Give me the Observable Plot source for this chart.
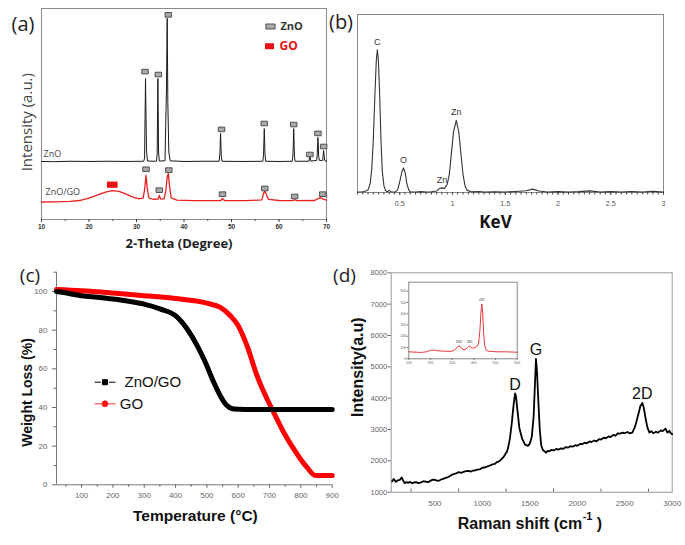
<!DOCTYPE html>
<html><head><meta charset="utf-8">
<script src="https://cdn.jsdelivr.net/npm/d3@7"></script>
<script src="https://cdn.jsdelivr.net/npm/@observablehq/plot@0.6"></script>
<style>
html,body{margin:0;padding:0;background:#fff}
#fig{position:relative;width:685px;height:545px;overflow:hidden;background:#fff}
.panel{position:absolute}
.panel svg{display:block}
</style></head>
<body><div id="fig">
<div class="panel" id="pa" style="left:0;top:0"></div>
<div class="panel" id="pb" style="left:340px;top:0"></div>
<div class="panel" id="pc" style="left:0;top:255px"></div>
<div class="panel" id="pd" style="left:340px;top:255px"></div>
<div class="panel" id="pi" style="left:398px;top:275px"></div>
</div>
<script>
// ---------- (a) XRD ----------
const xrdTicks = [10, 20, 30, 40, 50, 60, 70];
const xrdMinorTicks = [15, 25, 35, 45, 55, 65];
const znoPattern = [[10,27.5],[13,27.4],[16,27.6],[20,27.5],[24,27.6],[28,27.5],[31.5,27.6],[31.7,29],[31.9,66.8],[32.1,33],[32.3,27.7],[34.2,27.6],[34.35,31],[34.5,66.8],[34.65,32],[34.8,27.7],[36.0,27.8],[36.15,45],[36.3,60],[36.46,95.3],[36.6,55],[36.8,32],[37.1,27.8],[40,27.5],[44,27.6],[47.4,27.6],[47.55,31],[47.7,40.8],[47.85,30],[48.0,27.6],[52,27.5],[56.6,27.6],[56.75,31],[56.9,43.1],[57.05,31],[57.2,27.6],[60,27.5],[62.8,27.6],[62.95,31],[63.1,43.1],[63.25,30],[63.4,27.6],[66.3,27.6],[66.5,29.9],[66.7,27.7],[67.95,28],[68.05,31],[68.2,38.9],[68.35,30],[68.5,28],[69.2,28],[69.4,32.7],[69.6,28],[70,27.6]];
const compositePattern = [[10,8.3],[13,8.4],[16,8.6],[18,9],[20,10.1],[22,11.8],[23.5,13],[24.9,13.7],[26.3,13.3],[27.8,12],[29.3,10.6],[30.6,9.8],[31.4,10.2],[31.7,14],[32.0,20.9],[32.25,15],[32.6,10.3],[33.5,9.6],[34.55,9.7],[34.8,11.4],[35.05,9.8],[35.8,9.8],[36.2,14],[36.45,20],[36.7,21.8],[36.95,16],[37.3,10.2],[38.5,9.2],[42,8.9],[47.7,8.9],[48.1,10],[48.5,9],[53,8.9],[56.4,9.3],[56.7,12],[57.0,13.7],[57.3,12],[57.8,9.5],[60,9],[62.9,8.9],[63.3,9.4],[63.7,8.9],[67.5,9],[68.1,9.8],[68.7,10.4],[69.3,9.6],[70,9.2]];
const znoMarkers = [[31.8,70.1],[34.6,68.7],[36.7,97],[47.9,42.7],[56.9,45.5],[63.1,45],[66.5,30.8],[68.2,40.8],[69.4,34.6]];
const compositeMarkers = [[32.0,23.8],[34.8,13.9],[36.8,23.4],[48.1,12],[57.0,14.7],[63.3,10.9],[69.2,12]];
const goMarker = [[24.9,16.5]];

// ---------- (b) EDS ----------
const edsTicks = [0.5, 1, 1.5, 2, 2.5, 3];
const edsSpectrum = [[0.1,0.3],[0.15,0.4],[0.18,0.8],[0.2,1.5],[0.22,5],[0.235,13],[0.25,30],[0.265,55],[0.278,74],[0.288,80.2],[0.298,74],[0.31,55],[0.322,30],[0.335,12],[0.35,4],[0.365,1.2],[0.38,0.4],[0.4,1.2],[0.42,0.3],[0.46,0.4],[0.48,1.5],[0.5,6],[0.52,11.5],[0.536,13.8],[0.552,11],[0.568,5],[0.585,1.5],[0.6,0.4],[0.65,0.3],[0.7,0.5],[0.75,0.3],[0.8,0.4],[0.85,0.8],[0.875,2.2],[0.9,2.6],[0.925,2.3],[0.95,4.5],[0.97,10],[0.99,22],[1.01,34],[1.036,40.5],[1.06,34],[1.08,22],[1.1,10],[1.12,3.5],[1.14,1.2],[1.18,0.4],[1.25,0.6],[1.3,0.3],[1.4,0.4],[1.5,0.3],[1.6,0.6],[1.7,1],[1.76,1.9],[1.82,0.8],[1.9,0.3],[2,0.5],[2.1,0.3],[2.2,0.5],[2.3,0.9],[2.4,0.3],[2.5,0.5],[2.6,0.3],[2.7,0.6],[2.8,0.3],[2.9,0.7],[3,0.2]];
const edsPeakNames = ["C", "O", "Zn", "Zn"];
const edsPeakKeV = [0.288, 0.536, 0.9, 1.036];
const edsPeakCounts = [80.2, 13.8, 2.6, 40.5];

// ---------- (c) TGA ----------
const tgaTempTicks = [100, 200, 300, 400, 500, 600, 700, 800, 900];
const tgaTempMinor = [50, 150, 250, 350, 450, 550, 650, 750, 850];
const tgaWeightTicks = [0, 20, 40, 60, 80, 100];
const tgaWeightMinor = [10, 30, 50, 70, 90, 110];
const tgaZnOGO = [[20,100],[60,99],[100,97.8],[150,97],[200,96.1],[250,95],[300,93.5],[350,91],[400,87.5],[437,80.6],[469,72],[495,63.4],[522,53],[543,46],[564,41],[586,39.2],[620,39],[700,39],[800,39],[900,39]];
const tgaGO = [[20,101],[100,100.4],[200,99.2],[300,97.8],[400,96.4],[500,94],[543,91.8],[575,87.5],[600,82.3],[628,72],[660,56.5],[692,44.4],[713,37.5],[745,27.2],[777,18.6],[819,9.1],[846,4.8],[870,4.8],[900,4.8]];
const tgaSeries = ["ZnO/GO", "GO"];

// ---------- (d) Raman ----------
const ramanShiftTicks = [500, 1000, 1500, 2000, 2500, 3000];
const ramanShiftMinor = [250, 750, 1250, 1750, 2250, 2750];
const ramanIntensityTicks = [1000, 2000, 3000, 4000, 5000, 6000, 7000, 8000];
const ramanSpectrum = [[50,1350],[60,1400],[70,1420],[80,1360],[90,1330],[110,1380],[130,1390],[150,1470],[165,1380],[180,1290],[200,1320],[220,1300],[240,1330],[260,1280],[280,1310],[300,1320],[330,1290],[350,1310],[380,1350],[400,1340],[430,1320],[450,1360],[480,1400],[500,1390],[530,1360],[550,1380],[580,1420],[600,1440],[630,1470],[650,1500],[680,1560],[700,1580],[730,1610],[750,1640],[780,1620],[800,1650],[830,1670],[850,1680],[880,1660],[900,1690],[930,1700],[950,1720],[980,1740],[1000,1780],[1030,1790],[1050,1820],[1080,1850],[1100,1880],[1130,1900],[1150,1950],[1180,1990],[1200,2050],[1220,2110],[1240,2200],[1260,2300],[1270,2400],[1290,2700],[1310,3200],[1330,3800],[1345,4150],[1355,4050],[1370,3600],[1390,3050],[1420,2700],[1450,2520],[1480,2480],[1500,2550],[1520,2750],[1540,3400],[1555,4500],[1565,5250],[1575,4900],[1590,3900],[1605,3000],[1620,2500],[1640,2330],[1660,2300],[1670,2260],[1690,2320],[1700,2300],[1730,2350],[1750,2330],[1780,2380],[1800,2360],[1830,2400],[1850,2380],[1880,2440],[1900,2420],[1930,2470],[1950,2450],[1980,2500],[2000,2480],[2030,2540],[2050,2530],[2080,2580],[2100,2560],[2130,2620],[2150,2600],[2180,2650],[2200,2620],[2230,2690],[2250,2680],[2280,2740],[2300,2720],[2330,2780],[2350,2760],[2380,2830],[2400,2800],[2430,2880],[2450,2870],[2480,2900],[2500,2880],[2530,2920],[2550,2880],[2580,2900],[2610,3100],[2640,3450],[2665,3750],[2685,3850],[2700,3700],[2720,3350],[2740,3050],[2760,2900],[2780,2950],[2800,2880],[2830,2930],[2850,2900],[2880,2970],[2900,2950],[2930,3030],[2950,2900],[2970,2960],[2980,2900],[3000,2850]];
const ramanPeakNames = ["D", "G", "2D"];
const ramanPeakShift = [1345, 1565, 2685];
const ramanPeakIntensity = [4150, 5250, 3850];

// inset (ZnO Raman)
const insetShiftTicks = [100, 200, 300, 400, 500, 600];
const insetIntensityTicks = [0, 100, 200, 300, 400, 500, 600];
const insetSpectrum = [[100,62],[120,60],[140,58],[160,57],[180,62],[200,75],[215,78],[230,72],[260,68],[290,66],[300,68],[310,75],[320,95],[330,115],[338,110],[345,88],[355,80],[365,88],[375,108],[381,112],[388,100],[395,95],[405,98],[415,110],[422,140],[428,250],[433,420],[437,487],[441,400],[445,230],[450,120],[456,80],[465,68],[480,65],[500,63],[520,62],[550,62],[580,60],[600,58]];
const insetPeakNames = ["334", "381", "437"];
const insetPeakShift = [330, 381, 437];
const insetPeakIntensity = [118, 112, 487];

// ---------- helpers ----------
const sans = "'Liberation Sans', Arial, sans-serif";
const open = "'Open Sans', sans-serif";
const baseStyle = {background: "transparent", overflow: "visible", fontFamily: sans, fontSize: "7px", color: "#555"};
const fmt = d => `${d}`;
const mid = {textAnchor: "middle", lineAnchor: "middle"};
const startMid = {textAnchor: "start", lineAnchor: "middle"};
function boxSymbol(aspect) {
  return {draw(ctx, size) { const w = Math.sqrt(size * aspect), h = Math.sqrt(size / aspect); ctx.rect(-w / 2, -h / 2, w, h); }};
}
const lineSquareSymbol = {draw(ctx, size) {
  const s = Math.sqrt(size);
  ctx.moveTo(-10.5, 0); ctx.lineTo(-s / 2 - 1.5, 0);
  ctx.moveTo(s / 2 + 1.5, 0); ctx.lineTo(10.5, 0);
  ctx.rect(-s / 2, -s / 2, s, s);
}};
const lineCircleSymbol = {draw(ctx, size) {
  const r = Math.sqrt(size / Math.PI);
  ctx.moveTo(-10.5, 0); ctx.lineTo(10.5, 0);
  ctx.moveTo(r, 0); ctx.arc(0, 0, r, 0, 2 * Math.PI);
}};
const rot = (sx, sy) => ({rotate: -90, dx: sx, dy: sy, ...mid});

// ---------- panel (a) ----------
document.getElementById("pa").append(Plot.plot({
  width: 340, height: 255, marginTop: 8, marginRight: 14, marginBottom: 36, marginLeft: 41,
  x: {domain: [10, 70]}, y: {domain: [0, 100], axis: null},
  style: baseStyle,
  marks: [
    Plot.frame({stroke: "#8a8a8a"}),
    Plot.axisX({ticks: xrdMinorTicks, tickSize: 2, tickFormat: () => "", label: null, color: "#555"}),
    Plot.axisX({ticks: xrdTicks, tickSize: 3, tickPadding: 2, label: null, fontSize: 6.5, fontWeight: "bold", color: "#333", tickFormat: fmt}),
    Plot.line(compositePattern, {stroke: "#e8201e", strokeWidth: 1.3}),
    Plot.line(znoPattern, {stroke: "#1a1a1a", strokeWidth: 1}),
    Plot.dot(znoMarkers, {symbol: boxSymbol(1.4), r: 3.1, fill: "#a9a9a9", stroke: "#444", strokeWidth: 0.9}),
    Plot.dot(compositeMarkers, {symbol: boxSymbol(1.4), r: 3.1, fill: "#a9a9a9", stroke: "#444", strokeWidth: 0.9}),
    Plot.dot(goMarker, {symbol: boxSymbol(1.7), r: 4.6, fill: "#ee1111", stroke: "none"}),
    Plot.text(["ZnO"], {frameAnchor: "top-left", dx: 2, dy: 145.5, ...startMid, fontSize: 9, fontFamily: open, fill: "#444"}),
    Plot.text(["ZnO/GO"], {frameAnchor: "top-left", dx: 4, dy: 184, ...startMid, fontSize: 9, fontFamily: open, fill: "#444"}),
    Plot.dot([0], {frameAnchor: "top-right", dx: -56, dy: 18, symbol: boxSymbol(1.86), r: 3.85, fill: "#a9a9a9", stroke: "#444", strokeWidth: 0.9}),
    Plot.text(["ZnO"], {frameAnchor: "top-right", dx: -46, dy: 18, ...startMid, fontSize: 11, fontWeight: "bold", fontFamily: open, fill: "#333"}),
    Plot.dot([0], {frameAnchor: "top-right", dx: -57, dy: 37.7, symbol: boxSymbol(1.5), r: 4.15, fill: "#ee1111", stroke: "none"}),
    Plot.text(["GO"], {frameAnchor: "top-right", dx: -47, dy: 37.7, ...startMid, fontSize: 12, fontWeight: "bold", fontFamily: open, fill: "#ee1111"}),
    Plot.text(["2-Theta (Degree)"], {frameAnchor: "bottom", dx: -5, dy: 24, ...mid, fontSize: 13, fontWeight: "bold", fontFamily: open, fill: "#222"}),
    Plot.text(["Intensity (a.u.)"], {frameAnchor: "left", ...rot(-14.3, 8.2), fontSize: 15, fontFamily: open, fill: "#444"}),
    Plot.text(["(a)"], {frameAnchor: "top-left", dx: -18.5, dy: 16, ...mid, fontSize: 20, fontFamily: open, fill: "#222"})
  ]
}));

// ---------- panel (b) ----------
document.getElementById("pb").append(Plot.plot({
  width: 345, height: 255, marginTop: 14, marginRight: 22, marginBottom: 63, marginLeft: 17,
  x: {domain: [0.1, 3]}, y: {domain: [0, 100], axis: null},
  style: baseStyle,
  marks: [
    Plot.frame({stroke: "#8a8a8a"}),
    Plot.axisX({ticks: d3.range(0.1, 3.001, 0.05), tickSize: 2.5, tickFormat: () => "", label: null, color: "#444"}),
    Plot.axisX({ticks: edsTicks, tickSize: 3, tickPadding: 5.5, label: null, fontSize: 7.2, color: "#555", tickFormat: fmt}),
    Plot.line(edsSpectrum, {stroke: "#333", strokeWidth: 1.1}),
    Plot.text(edsPeakNames, {x: (d, i) => edsPeakKeV[i], y: (d, i) => edsPeakCounts[i], dy: -8, ...mid, fontSize: 9, fill: "#333"}),
    Plot.text(["KeV"], {frameAnchor: "bottom", dx: -15, dy: 30, ...mid, fontSize: 17, fontWeight: "bold", fontFamily: open, fill: "#111"}),
    Plot.text(["(b)"], {frameAnchor: "top-left", dx: -16.5, dy: 8.5, ...mid, fontSize: 20, fontFamily: open, fill: "#222"})
  ]
}));

// ---------- panel (c) ----------
document.getElementById("pc").append(Plot.plot({
  width: 340, height: 290, marginTop: 16.7, marginRight: 8.3, marginBottom: 60.7, marginLeft: 56,
  x: {domain: [20, 900]}, y: {domain: [0, 110]},
  style: baseStyle,
  marks: [
    Plot.ruleY([0], {stroke: "#777"}),
    Plot.ruleX([20], {stroke: "#777"}),
    Plot.axisY({ticks: tgaWeightMinor, tickSize: 2.5, tickFormat: () => "", label: null, color: "#666"}),
    Plot.axisY({ticks: tgaWeightTicks, tickSize: 4, tickPadding: 5, fontSize: 8, label: null, color: "#666", tickFormat: fmt}),
    Plot.axisX({ticks: tgaTempMinor, tickSize: 2.5, tickFormat: () => "", label: null, color: "#666"}),
    Plot.axisX({ticks: tgaTempTicks, tickSize: 3.5, tickPadding: 4, fontSize: 8, label: null, color: "#666", tickFormat: fmt}),
    Plot.line(tgaGO, {stroke: "#ff0000", strokeWidth: 5, curve: "monotone-x"}),
    Plot.line(tgaZnOGO, {stroke: "#000", strokeWidth: 5, curve: "monotone-x"}),
    Plot.dot([0], {frameAnchor: "top-left", dx: 48.5, dy: 110, symbol: lineSquareSymbol, r: 2.82, fill: "#000", stroke: "#000", strokeWidth: 1}),
    Plot.text([tgaSeries[0]], {frameAnchor: "top-left", dx: 68, dy: 110, ...startMid, fontSize: 15, fill: "#111"}),
    Plot.dot([0], {frameAnchor: "top-left", dx: 48.5, dy: 131.6, symbol: lineCircleSymbol, r: 3, fill: "#ff0000", stroke: "#ff3030", strokeWidth: 1}),
    Plot.text([tgaSeries[1]], {frameAnchor: "top-left", dx: 63.3, dy: 131.6, ...startMid, fontSize: 15, fill: "#111"}),
    Plot.text(["Temperature (°C)"], {frameAnchor: "bottom", dx: 1, dy: 31.4, ...mid, fontSize: 15.5, fontWeight: "bold", fill: "#111"}),
    Plot.text(["Weight Loss (%)"], {frameAnchor: "left", ...rot(-29.3, 14), fontSize: 14, fontWeight: "bold", fill: "#111"}),
    Plot.text(["(c)"], {frameAnchor: "top-left", dx: -26.5, dy: 3.3, ...mid, fontSize: 19, fontFamily: open, fill: "#222"})
  ]
}));

// ---------- panel (d) ----------
document.getElementById("pd").append(Plot.plot({
  width: 345, height: 290, marginTop: 17.3, marginRight: 13.3, marginBottom: 53.3, marginLeft: 50.7,
  x: {domain: [40, 3000]}, y: {domain: [1000, 8000]},
  style: baseStyle,
  marks: [
    Plot.frame({stroke: "#999"}),
    Plot.axisY({ticks: ramanIntensityTicks, tickSize: 3, tickPadding: 1, fontSize: 7.5, label: null, color: "#666", tickFormat: fmt}),
    Plot.axisX({ticks: ramanShiftMinor, tickSize: -3, tickFormat: () => "", label: null, color: "#666"}),
    Plot.axisX({ticks: ramanShiftTicks, tickSize: 0, tickPadding: 8, fontSize: 8, label: null, color: "#666", tickFormat: fmt}),
    Plot.line(ramanSpectrum, {stroke: "#000", strokeWidth: 1.8}),
    Plot.text(ramanPeakNames, {x: (d, i) => ramanPeakShift[i], y: (d, i) => ramanPeakIntensity[i], dy: -9, ...mid, fontSize: 16, fill: "#111"}),
    Plot.text(["Intensity(a.u)"], {frameAnchor: "left", ...rot(-33, -15.3), fontSize: 16, fontWeight: "bold", fill: "#111"}),
    Plot.text(["Raman shift (cm"], {frameAnchor: "bottom-left", dx: 191, dy: 31.3, textAnchor: "end", lineAnchor: "middle", fontSize: 16, fontWeight: "bold", fill: "#111"}),
    Plot.text(["-1"], {frameAnchor: "bottom-left", dx: 191.5, dy: 24, ...startMid, fontSize: 11, fontWeight: "bold", fill: "#111"}),
    Plot.text([")"], {frameAnchor: "bottom-left", dx: 205.5, dy: 31.3, ...startMid, fontSize: 16, fontWeight: "bold", fill: "#111"}),
    Plot.text(["(d)"], {frameAnchor: "top-left", dx: -46.7, dy: 2.7, ...mid, fontSize: 19, fontFamily: open, fill: "#222"})
  ]
}));

// ---------- inset ----------
document.getElementById("pi").append(Plot.plot({
  width: 125, height: 95, marginTop: 6.7, marginRight: 6.3, marginBottom: 11.7, marginLeft: 10.3,
  x: {domain: [100, 600]}, y: {domain: [0, 680]},
  style: baseStyle,
  marks: [
    Plot.frame({stroke: "#888"}),
    Plot.axisY({ticks: insetIntensityTicks, tickSize: 1.5, tickPadding: 1, fontSize: 3.5, label: null, color: "#666", tickFormat: fmt}),
    Plot.axisX({ticks: insetShiftTicks, tickSize: 1.5, tickPadding: 1.5, fontSize: 3.5, label: null, color: "#666", tickFormat: fmt}),
    Plot.line(insetSpectrum, {stroke: "#e52222", strokeWidth: 0.9}),
    Plot.text(insetPeakNames, {x: (d, i) => insetPeakShift[i], y: (d, i) => insetPeakIntensity[i], dy: -4, ...mid, fontSize: 3.5, fill: "#333"})
  ]
}));
</script>
</body></html>
